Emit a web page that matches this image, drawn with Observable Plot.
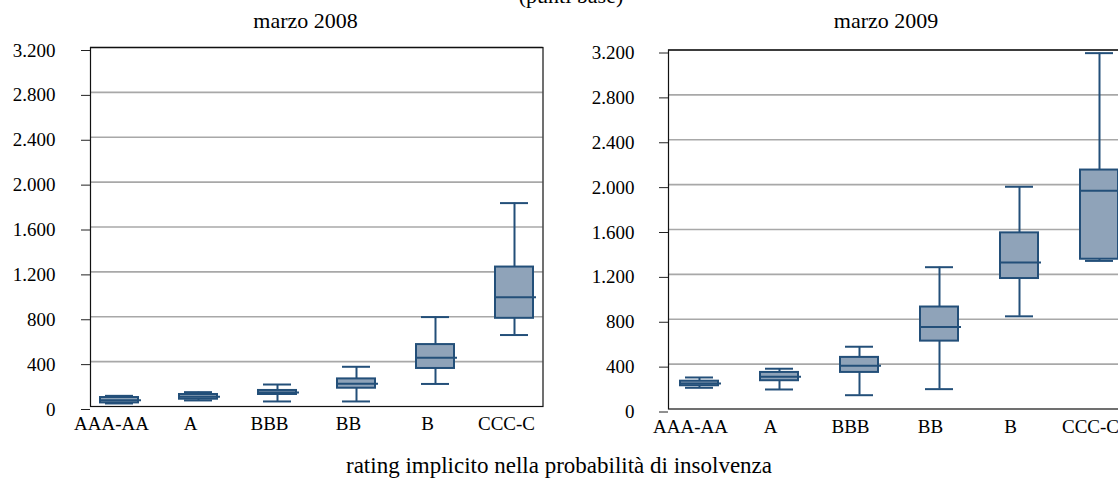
<!DOCTYPE html>
<html><head><meta charset="utf-8">
<script src="https://cdn.jsdelivr.net/npm/d3@7"></script>
<script src="https://cdn.jsdelivr.net/npm/@observablehq/plot@0.6"></script>
<style>
html,body{margin:0;padding:0;background:#fff;}
#wrap{position:relative;width:1118px;height:482px;overflow:hidden;font-family:"Liberation Serif","Times New Roman",serif;color:#000;}
.t{position:absolute;white-space:nowrap;line-height:1;}
#wrap svg{position:absolute;overflow:visible;}
</style></head><body><div id="wrap"></div>
<script>
const categories = ["AAA-AA", "A", "BBB", "BB", "B", "CCC-C"];
const min2008 = [27, 54, 45, 45, 201, 637];
const q1_2008 = [32, 65, 107, 163, 339, 786];
const med2008 = [56, 86, 125, 202, 434, 973];
const q3_2008 = [80, 107, 143, 246, 552, 1243];
const max2008 = [95, 128, 196, 354, 797, 1813];
const min2009 = [189, 174, 123, 177, 826, 1320];
const q1_2009 = [207, 252, 326, 605, 1163, 1335];
const med2009 = [228, 288, 386, 730, 1305, 1945];
const q3_2009 = [248, 326, 460, 909, 1570, 2130];
const max2009 = [281, 359, 555, 1264, 1981, 3172];
const yTicks = [0, 400, 800, 1200, 1600, 2000, 2400, 2800, 3200];
const gridTicks = [400, 800, 1200, 1600, 2000, 2400, 2800];
const titleMain = "(punti base)";
const titles = ["marzo 2008", "marzo 2009"];
const xTitle = "rating implicito nella probabilità di insolvenza";

const FONT = "Liberation Serif, Times New Roman, serif";
const fmt = d3.formatLocale({decimal: ",", thousands: ".", grouping: [3], currency: ["", "€"]}).format(",");
const wrap = document.getElementById("wrap");
const BOX_STROKE = "#234f79", BOX_FILL = "#8fa3b9";

function rows(mins, q1s, meds, q3s, maxs) {
  return categories.map((c, i) => ({cat: c, min: mins[i], q1: q1s[i], med: meds[i], q3: q3s[i], max: maxs[i]}));
}

function panel(data, o) {
  const chart = Plot.plot({
    width: o.width, height: o.height,
    marginLeft: o.ml, marginRight: o.mr, marginTop: o.mt, marginBottom: o.mb,
    style: `background: transparent; color: #000; font-family: ${FONT}; font-size: 19px;`,
    x: {type: "band", domain: categories, paddingInner: o.pi, paddingOuter: o.po},
    y: {domain: [0, 3200]},
    marks: [
      Plot.ruleY(gridTicks, {stroke: "#a8a8a8", strokeWidth: 1.6}),
      Plot.ruleY([3200], {stroke: "#555", strokeWidth: 1.6}),
      Plot.frame({stroke: "#111", strokeWidth: 1.2}),
      Plot.ruleX(data, {x: "cat", y1: "q3", y2: "max", stroke: BOX_STROKE, strokeWidth: 2}),
      Plot.ruleX(data, {x: "cat", y1: "min", y2: "q1", stroke: BOX_STROKE, strokeWidth: 2}),
      Plot.barY(data, {x: "cat", y1: "q1", y2: "q3", fill: BOX_FILL, stroke: BOX_STROKE, strokeWidth: 2}),
      Plot.tickY(data, {x: "cat", y: "med", stroke: BOX_STROKE, strokeWidth: 2, insetRight: -3}),
      Plot.tickY(data, {x: "cat", y: "max", stroke: BOX_STROKE, strokeWidth: 2, insetLeft: 5, insetRight: 5}),
      Plot.tickY(data, {x: "cat", y: "min", stroke: BOX_STROKE, strokeWidth: 2, insetLeft: 5, insetRight: 5}),
      Plot.axisY({ticks: yTicks, tickFormat: fmt, tickSize: 9, tickPadding: o.tp, dy: 3, label: null, stroke: "#222", fontFamily: FONT, fontSize: 19}),
      Plot.axisX({tickSize: 0, tickPadding: 10, dx: o.xdx, label: null, fontFamily: FONT, fontSize: 19})
    ]
  });
  chart.querySelectorAll("text").forEach(t => {
    t.style.fontFamily = FONT;
    t.style.fontSize = "19px";
  });
  chart.style.left = o.left + "px";
  chart.style.top = o.top + "px";
  wrap.appendChild(chart);
}

panel(rows(min2008, q1_2008, med2008, q3_2008, max2008),
  {left: 0, top: 0, width: 560, height: 440, ml: 90, mr: 17.5, mt: 47, mb: 34, pi: 0.52, po: 0.1, tp: 26, xdx: -8});
panel(rows(min2009, q1_2009, med2009, q3_2009, max2009),
  {left: 560, top: 0, width: 580, height: 440, ml: 108, mr: 10, mt: 49.5, mb: 31.5, pi: 0.53, po: 0.12, tp: 25, xdx: -9});

function addText(txt, cx, top, size) {
  const d = document.createElement("div");
  d.className = "t";
  d.textContent = txt;
  d.style.fontSize = size + "px";
  d.style.top = top + "px";
  d.style.left = cx + "px";
  d.style.transform = "translateX(-50%)";
  wrap.appendChild(d);
}
addText(titleMain, 571, -15, 22);
addText(titles[0], 305.5, 10, 22);
addText(titles[1], 886, 10, 22);
addText(xTitle, 559, 453.5, 23);
</script></body></html>
